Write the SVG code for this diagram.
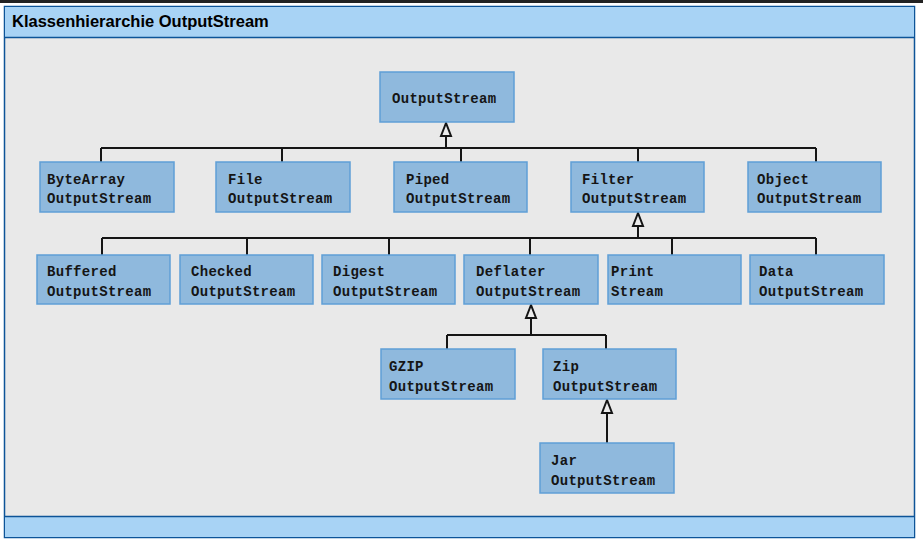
<svg xmlns="http://www.w3.org/2000/svg" width="923" height="543" viewBox="0 0 923 543">
<style>
.box{fill:#8fb9dd;stroke:#5f9fd6;stroke-width:1.5}
.lbl{font-family:"Liberation Mono","DejaVu Sans Mono",monospace;font-weight:bold;font-size:14px;letter-spacing:0.3px;fill:#151515}
.ln{fill:none;stroke:#151515;stroke-width:2}
.ah{fill:#ececec;stroke:#151515;stroke-width:2;stroke-linejoin:miter}
</style>
<rect x="0" y="0" width="923" height="543" fill="#ffffff"/>
<rect x="0" y="0" width="923" height="3" fill="#222222"/>
<rect x="4.5" y="6.5" width="910" height="531" fill="#e9e9e9" stroke="#0d5498" stroke-width="1.5"/>
<rect x="5" y="7" width="909" height="30" fill="#a8d3f5"/>
<line x1="5" y1="37.5" x2="914" y2="37.5" stroke="#0d5498" stroke-width="1.5"/>
<rect x="5" y="516" width="909" height="21" fill="#a8d3f5"/>
<line x1="5" y1="516.5" x2="914" y2="516.5" stroke="#0d5498" stroke-width="1.5"/>
<text x="12" y="27" font-family="Liberation Sans,Arial,sans-serif" font-weight="bold" font-size="16.5px" fill="#000">Klassenhierarchie OutputStream</text>

<g id="connectors">
<path class="ln" d="M446 136V148M101 148H816M101 148V162M282 148V162M461 148V162M638 148V162M816 148V162"/>
<polygon class="ah" points="446,123 441,136 451,136"/>
<path class="ln" d="M638 226V238M102 238H816M102 238V255M247 238V255M389 238V255M530 238V255M672 238V255M816 238V255"/>
<polygon class="ah" points="638,213 633,226 643,226"/>
<path class="ln" d="M531 318V335M447 335H606M447 335V349M606 335V349"/>
<polygon class="ah" points="531,305 526,318 536,318"/>
<path class="ln" d="M607 413V443"/>
<polygon class="ah" points="607,400 602,413 612,413"/>
</g>

<g id="OutputStream"><rect class="box" x="380" y="72" width="134" height="50"/><text class="lbl" x="392" y="103">OutputStream</text></g>

<g id="ByteArrayOutputStream"><rect class="box" x="40" y="162" width="134" height="50"/><text class="lbl" x="47" y="184">ByteArray</text><text class="lbl" x="47" y="203">OutputStream</text></g>
<g id="FileOutputStream"><rect class="box" x="216" y="162" width="134" height="50"/><text class="lbl" x="228" y="184">File</text><text class="lbl" x="228" y="203">OutputStream</text></g>
<g id="PipedOutputStream"><rect class="box" x="394" y="162" width="133" height="50"/><text class="lbl" x="406" y="184">Piped</text><text class="lbl" x="406" y="203">OutputStream</text></g>
<g id="FilterOutputStream"><rect class="box" x="571" y="162" width="133" height="50"/><text class="lbl" x="582" y="184">Filter</text><text class="lbl" x="582" y="203">OutputStream</text></g>
<g id="ObjectOutputStream"><rect class="box" x="748" y="162" width="133" height="50"/><text class="lbl" x="757" y="184">Object</text><text class="lbl" x="757" y="203">OutputStream</text></g>

<g id="BufferedOutputStream"><rect class="box" x="37" y="255" width="133" height="49"/><text class="lbl" x="47" y="276">Buffered</text><text class="lbl" x="47" y="296">OutputStream</text></g>
<g id="CheckedOutputStream"><rect class="box" x="180" y="255" width="133" height="49"/><text class="lbl" x="191" y="276">Checked</text><text class="lbl" x="191" y="296">OutputStream</text></g>
<g id="DigestOutputStream"><rect class="box" x="322" y="255" width="133" height="49"/><text class="lbl" x="333" y="276">Digest</text><text class="lbl" x="333" y="296">OutputStream</text></g>
<g id="DeflaterOutputStream"><rect class="box" x="464" y="255" width="134" height="49"/><text class="lbl" x="476" y="276">Deflater</text><text class="lbl" x="476" y="296">OutputStream</text></g>
<g id="PrintStream"><rect class="box" x="608" y="255" width="133" height="49"/><text class="lbl" x="611" y="276">Print</text><text class="lbl" x="611" y="296">Stream</text></g>
<g id="DataOutputStream"><rect class="box" x="750" y="255" width="134" height="49"/><text class="lbl" x="759" y="276">Data</text><text class="lbl" x="759" y="296">OutputStream</text></g>

<g id="GZIPOutputStream"><rect class="box" x="381" y="349" width="134" height="50"/><text class="lbl" x="389" y="371">GZIP</text><text class="lbl" x="389" y="391">OutputStream</text></g>
<g id="ZipOutputStream"><rect class="box" x="543" y="349" width="133" height="50"/><text class="lbl" x="553" y="371">Zip</text><text class="lbl" x="553" y="391">OutputStream</text></g>
<g id="JarOutputStream"><rect class="box" x="540" y="443" width="134" height="50"/><text class="lbl" x="551" y="465">Jar</text><text class="lbl" x="551" y="485">OutputStream</text></g>
</svg>
